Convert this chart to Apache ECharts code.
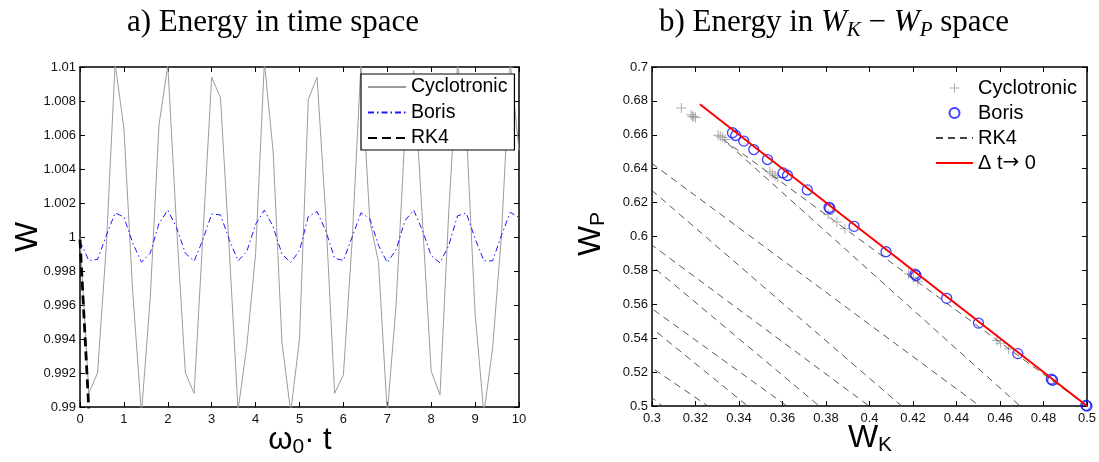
<!DOCTYPE html>
<html>
<head>
<meta charset="utf-8">
<title>Energy in time space / WK-WP space</title>
<script src="https://cdn.jsdelivr.net/npm/echarts@6/dist/echarts.min.js"></script>
<style>
  html, body { margin: 0; padding: 0; background: #fff; }
  #chart { width: 1099px; height: 462px; }
</style>
</head>
<body>
<div id="chart"></div>
<script>
// ---- a) energy over time (one sample every 0.2) ----
const timeSteps = [0, 0.2, 0.4, 0.6, 0.8, 1, 1.2, 1.4, 1.6, 1.8, 2, 2.2, 2.4, 2.6, 2.8, 3, 3.2, 3.4, 3.6, 3.8,
  4, 4.2, 4.4, 4.6, 4.8, 5, 5.2, 5.4, 5.6, 5.8, 6, 6.2, 6.4, 6.6, 6.8, 7, 7.2, 7.4, 7.6, 7.8,
  8, 8.2, 8.4, 8.6, 8.8, 9, 9.2, 9.4, 9.6, 9.8, 10];
const cyclotronicW = [1.0000, 0.9908, 0.9920, 0.9995, 1.0102, 1.0064, 0.9968, 0.9896, 0.9964, 1.0066,
  1.0101, 1.0006, 0.9920, 0.9908, 1.0001, 1.0094, 1.0082, 0.9993, 0.9898, 0.9936,
  0.9990, 1.0103, 1.0050, 0.9938, 0.9897, 0.9940, 1.0081, 1.0094, 1.0012, 0.9908,
  0.9919, 0.9998, 1.0102, 1.0010, 0.9985, 0.9896, 0.9960, 1.0060, 1.0098, 1.0010,
  0.9921, 0.9907, 1.0015, 1.0102, 1.0064, 0.9955, 0.9896, 0.9935, 1.0001, 1.0103, 1.0051];
const borisW = [0.99975, 0.99862, 0.99868, 1.00010, 1.00142, 1.00118, 0.99965, 0.99852, 0.99905, 1.00080,
  1.00158, 1.00055, 0.99905, 0.99858, 0.99985, 1.00135, 1.00130, 0.99985, 0.99860, 0.99915,
  1.00075, 1.00158, 1.00060, 0.99900, 0.99850, 0.99920, 1.00120, 1.00150, 1.00035, 0.99875,
  0.99862, 1.00000, 1.00142, 1.00110, 0.99950, 0.99850, 0.99925, 1.00095, 1.00158, 1.00040,
  0.99890, 0.99848, 0.99950, 1.00125, 1.00140, 0.99990, 0.99860, 0.99860, 1.00010, 1.00145, 1.00115];
const rk4Time = [0, 0.2];
const rk4W = [0.99985, 0.9899];

// ---- b) kinetic vs potential energy ----
const cycloWK = [0.3135, 0.3180, 0.3192, 0.3200, 0.3186, 0.3304, 0.3314, 0.3325, 0.3336, 0.3542, 0.3553,
  0.3566, 0.3578, 0.3810, 0.3850, 0.3887, 0.4180, 0.4202, 0.4222, 0.4586, 0.4602, 0.4640];
const cycloWP = [0.6758, 0.6718, 0.6710, 0.6702, 0.6706, 0.6598, 0.6592, 0.6584, 0.6572, 0.6382, 0.6370,
  0.6358, 0.6348, 0.6130, 0.6086, 0.6046, 0.5780, 0.5760, 0.5736, 0.5386, 0.5370, 0.5336];
const borisWK = [0.3370, 0.3385, 0.3422, 0.3468, 0.3531, 0.3603, 0.3623, 0.3714, 0.3814, 0.3818, 0.3929,
  0.4076, 0.4209, 0.4214, 0.4355, 0.4501, 0.4682, 0.4836, 0.4842, 0.4995, 0.5000];
const borisWP = [0.6612, 0.6596, 0.6563, 0.6513, 0.6454, 0.6375, 0.6360, 0.6275, 0.6172, 0.6165, 0.6060,
  0.5910, 0.5778, 0.5770, 0.5635, 0.5489, 0.5309, 0.5158, 0.5152, 0.5004, 0.5000];
// RK4 zig-zags between the two ends while losing energy (end points fall outside the box)
const rk4WK = [0.500, 0.333, 0.556, 0.200, 0.505, 0.200, 0.470, 0.200, 0.440, 0.200, 0.400, 0.200];
const rk4WP = [0.500, 0.657, 0.400, 0.738, 0.400, 0.690, 0.400, 0.650, 0.400, 0.610, 0.400, 0.580];
const exactWK = [0.322, 0.5];
const exactWP = [0.678, 0.5];

const SANS = "'Liberation Sans', Arial, sans-serif";
const SERIF = "'Liberation Serif', 'Times New Roman', serif";
const LIMIT = "\u0394 t\u2192 0";

const zip = (a, b) => a.map((v, i) => [v, b[i]]);
const trim = d => v => String(+v.toFixed(d));
// legend entries of plain lines: hide the dot ECharts puts in the middle
const lineItem = name => ({ name, itemStyle: { opacity: 0 } });

let chart;

function initChart() {
  chart = echarts.init(document.getElementById("chart"), null, { renderer: "canvas" });
}

// one box side: bottom/left carry labels, top/right only inner ticks
function boxAxis(gridIndex, position, min, max, interval, digits) {
  const labelled = position === "bottom" || position === "left";
  return {
    type: "value",
    gridIndex,
    position,
    min,
    max,
    interval,
    axisLine: { show: true, onZero: false, lineStyle: { color: "#000", width: 1.5 } },
    axisTick: { show: true, inside: true, length: 5, lineStyle: { color: "#000", width: 1 } },
    axisLabel: {
      show: labelled,
      color: "#111",
      fontFamily: SANS,
      fontSize: 13,
      margin: position === "left" ? 4 : 6,
      formatter: trim(digits)
    },
    splitLine: { show: false }
  };
}

function subRich(main, sub) {
  return {
    m: { fontFamily: SANS, fontSize: main, lineHeight: 36, verticalAlign: "middle", fill: "#000" },
    s: { fontFamily: SANS, fontSize: sub, lineHeight: 14, verticalAlign: "bottom", fill: "#000" }
  };
}

function setOption() {
  chart.setOption({
    animation: false,
    backgroundColor: "#fff",
    textStyle: { fontFamily: SANS },
    title: [
      {
        text: "a) Energy in time space",
        left: 268,
        top: 0,
        textAlign: "center",
        textStyle: { fontFamily: SERIF, fontSize: 31, fontWeight: "normal", color: "#000", lineHeight: 36 }
      },
      {
        text: "b) Energy in {i|W}{s|K} \u2212 {i|W}{s|P} space",
        left: 829,
        top: 0,
        textAlign: "center",
        textStyle: {
          fontFamily: SERIF, fontSize: 31, fontWeight: "normal", color: "#000", lineHeight: 36,
          rich: {
            i: { fontFamily: SERIF, fontStyle: "italic", fontSize: 31, lineHeight: 36 },
            s: { fontFamily: SERIF, fontStyle: "italic", fontSize: 21, lineHeight: 16, verticalAlign: "bottom" }
          }
        }
      }
    ],
    grid: [
      { left: 80, top: 67, width: 439, height: 340 },
      { left: 652, top: 67, width: 435, height: 339 }
    ],
    xAxis: [
      boxAxis(0, "bottom", 0, 10, 1, 0),
      boxAxis(0, "top", 0, 10, 1, 0),
      boxAxis(1, "bottom", 0.3, 0.5, 0.02, 2),
      boxAxis(1, "top", 0.3, 0.5, 0.02, 2)
    ],
    yAxis: [
      boxAxis(0, "left", 0.99, 1.01, 0.002, 3),
      boxAxis(0, "right", 0.99, 1.01, 0.002, 3),
      boxAxis(1, "left", 0.5, 0.7, 0.02, 2),
      boxAxis(1, "right", 0.5, 0.7, 0.02, 2)
    ],
    legend: [
      {
        data: [lineItem("Cyclotronic"), lineItem("Boris"), lineItem("RK4")],
        orient: "vertical",
        left: 361,
        top: 74,
        itemWidth: 38,
        itemHeight: 14,
        itemGap: 5.5,
        padding: [3, 7, 2, 6],
        borderColor: "#000",
        borderWidth: 1.2,
        borderRadius: 0,
        backgroundColor: "#fff",
        selectedMode: false,
        textStyle: { fontFamily: SANS, fontSize: 19.5, color: "#000" }
      },
      {
        data: ["Cyclotronic ", "Boris ", lineItem("RK4 "), lineItem(LIMIT)],
        orient: "vertical",
        left: 935,
        top: 78,
        itemWidth: 37,
        itemHeight: 10,
        itemGap: 5,
        padding: 0,
        selectedMode: false,
        formatter: name => (name === LIMIT ? "{a|\u0394 t}{b|\u2192}{a| 0}" : name),
        textStyle: {
          fontFamily: SANS, fontSize: 20, color: "#000",
          rich: {
            a: { fontFamily: SANS, fontSize: 20 },
            b: { fontFamily: "'DejaVu Sans', sans-serif", fontSize: 20 }
          }
        }
      }
    ],
    graphic: [
      {
        type: "text", x: 28, y: 237, rotation: Math.PI / 2,
        style: { text: "W", font: "32px " + SANS, fill: "#000", align: "center", verticalAlign: "middle" }
      },
      {
        type: "text", x: 300, y: 440,
        style: { text: "{m|\u03c9}{s|0}{m|\u00b7 t}", rich: subRich(31, 21), align: "center", verticalAlign: "middle" }
      },
      {
        type: "text", x: 591, y: 234, rotation: Math.PI / 2,
        style: { text: "{m|W}{s|P}", rich: subRich(32, 21), align: "center", verticalAlign: "middle" }
      },
      {
        type: "text", x: 870, y: 438,
        style: { text: "{m|W}{s|K}", rich: subRich(32, 21), align: "center", verticalAlign: "middle" }
      }
    ],
    series: [
      {
        name: "Cyclotronic",
        type: "line",
        xAxisIndex: 0,
        yAxisIndex: 0,
        data: zip(timeSteps, cyclotronicW),
        symbol: "none",
        lineStyle: { color: "#9c9c9c", width: 1 },
        itemStyle: { color: "#9c9c9c" }
      },
      {
        name: "Boris",
        type: "line",
        xAxisIndex: 0,
        yAxisIndex: 0,
        data: zip(timeSteps, borisW),
        symbol: "none",
        lineStyle: { color: "#1a1aff", width: 1, type: [6, 3, 1.5, 3] },
        itemStyle: { color: "#1a1aff" }
      },
      {
        name: "RK4",
        type: "line",
        xAxisIndex: 0,
        yAxisIndex: 0,
        data: zip(rk4Time, rk4W),
        symbol: "none",
        lineStyle: { color: "#000", width: 2.8, type: [9, 5] },
        itemStyle: { color: "#000" }
      },
      {
        name: "RK4 ",
        type: "line",
        xAxisIndex: 2,
        yAxisIndex: 2,
        data: zip(rk4WK, rk4WP),
        symbol: "none",
        lineStyle: { color: "#444", width: 0.9, type: [7, 5] },
        itemStyle: { color: "#444" }
      },
      {
        name: "Cyclotronic ",
        type: "scatter",
        xAxisIndex: 2,
        yAxisIndex: 2,
        data: zip(cycloWK, cycloWP),
        symbol: "path://M4.5,0H5.5V4.5H10V5.5H5.5V10H4.5V5.5H0V4.5H4.5Z",
        symbolKeepAspect: true,
        symbolSize: 10,
        clip: false,
        itemStyle: { color: "#9a9a9a" }
      },
      {
        name: "Boris ",
        type: "scatter",
        xAxisIndex: 2,
        yAxisIndex: 2,
        data: zip(borisWK, borisWP),
        symbol: "circle",
        symbolSize: 10,
        clip: false,
        itemStyle: { color: "rgba(0,0,0,0)", borderColor: "#1010ff", borderWidth: 1.3 }
      },
      {
        name: LIMIT,
        type: "line",
        xAxisIndex: 2,
        yAxisIndex: 2,
        data: zip(exactWK, exactWP),
        symbol: "none",
        z: 3,
        lineStyle: { color: "#ff0000", width: 2 },
        itemStyle: { color: "#ff0000" }
      }
    ]
  });
}

initChart();
setOption();
</script>
</body>
</html>
